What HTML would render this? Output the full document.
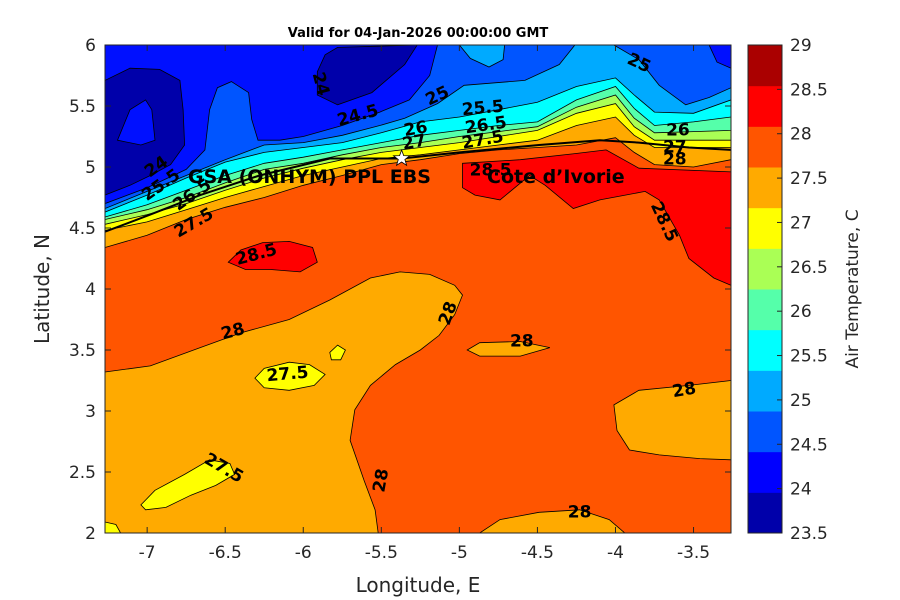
<!DOCTYPE html>
<html><head><meta charset="utf-8"><style>
html,body{margin:0;padding:0;background:#fff;}
svg{display:block;font-family:"DejaVu Sans","Liberation Sans",sans-serif;}
</style></head><body>
<svg id="chart" width="900" height="600" viewBox="0 0 900 600" xmlns="http://www.w3.org/2000/svg">
<defs><clipPath id="plotclip"><rect x="105" y="45" width="626" height="488"/></clipPath></defs>
<rect x="0" y="0" width="900" height="600" fill="#fff"/>
<text x="418" y="37" font-size="13" font-weight="bold" text-anchor="middle" fill="#000">Valid for 04-Jan-2026 00:00:00 GMT</text>
<g id="plot" clip-path="url(#plotclip)"></g>
<g id="overlay"></g>
<rect x="105" y="45" width="626" height="488" fill="none" stroke="#262626" stroke-width="1"/>
<g id="axes"></g>
<g id="cbar"></g>
<text x="418" y="592" font-size="20" text-anchor="middle" fill="#262626">Longitude, E</text>
<text transform="translate(49,289) rotate(-90)" font-size="20" text-anchor="middle" fill="#262626">Latitude, N</text>
<text transform="translate(858,289) rotate(-90)" font-size="17" text-anchor="middle" fill="#262626">Air Temperature, C</text>
</svg>
<script>
// ---- data ----
const xTicks = [-7, -6.5, -6, -5.5, -5, -4.5, -4, -3.5];
const xTickLabels = ["-7", "-6.5", "-6", "-5.5", "-5", "-4.5", "-4", "-3.5"];
const yTicks = [2, 2.5, 3, 3.5, 4, 4.5, 5, 5.5, 6];
const yTickLabels = ["2", "2.5", "3", "3.5", "4", "4.5", "5", "5.5", "6"];
const cbarTicks = [23.5, 24, 24.5, 25, 25.5, 26, 26.5, 27, 27.5, 28, 28.5, 29];
const cbarColors = ["#0000aa","#0000ff","#0055ff","#00aaff","#00ffff","#55ffaa","#aaff55","#ffff00","#ffaa00","#ff5500","#ff0000","#aa0000"];

// northern gradient band: contour latitude at each longitude
const bandLons = [-7.27,-7,-6.75,-6.5,-6.25,-6,-5.75,-5.5,-5.25,-5,-4.75,-4.5,-4.25,-4,-3.88,-3.75,-3.5,-3.26];
const bandLevels = [28, 27.5, 27, 26.5, 26, 25.5];
const lat28   = [4.34,4.44,4.57,4.67,4.75,4.85,4.93,5.02,5.06,5.11,5.14,5.16,5.18,5.24,5.12,5.02,5.00,5.06];
const lat27_5 = [4.48,4.55,4.65,4.75,4.84,4.93,5.00,5.07,5.10,5.14,5.18,5.22,5.34,5.41,5.26,5.16,5.16,5.16];
const lat27   = [4.53,4.61,4.70,4.81,4.91,4.99,5.06,5.12,5.16,5.20,5.25,5.30,5.44,5.52,5.33,5.22,5.22,5.22];
const lat26_5 = [4.57,4.65,4.75,4.87,4.98,5.03,5.10,5.16,5.20,5.25,5.29,5.33,5.49,5.59,5.40,5.28,5.29,5.30];
const lat26   = [4.59,4.69,4.81,4.93,5.03,5.08,5.14,5.20,5.26,5.30,5.34,5.37,5.55,5.66,5.48,5.34,5.37,5.41];
const lat25_5 = [4.63,4.77,4.91,5.04,5.12,5.16,5.20,5.28,5.37,5.41,5.47,5.53,5.66,5.73,5.59,5.45,5.44,5.55];

// 25 contour (two pieces) and patch
const c25aLon = [-7.27,-7,-6.75,-6.5,-6.25,-6,-5.75,-5.51,-5.35,-5.14,-4.97,-4.58,-4.36,-4.26];
const c25aLat = [4.66,4.80,4.93,5.06,5.18,5.20,5.26,5.34,5.40,5.52,5.67,5.71,5.84,6.0];
const c25bLon = [-4.01,-3.85,-3.72,-3.55,-3.40,-3.26];
const c25bLat = [6.0,5.88,5.67,5.51,5.57,5.65];
const p25Lon = [-5,-4.93,-4.81,-4.72,-4.71];
const p25Lat = [6,5.89,5.82,5.88,6];
// 24.5 contour
const c245Lon = [-7.27,-7,-6.75,-6.63,-6.60,-6.55,-6.46,-6.35,-6.33,-6.29,-6.15,-6.00,-5.75,-5.51,-5.32,-5.19,-5.14];
const c245Lat = [4.70,4.83,4.98,5.14,5.47,5.65,5.70,5.61,5.39,5.22,5.22,5.25,5.34,5.45,5.55,5.75,6.0];
const c245bLon = [-3.40,-3.26,-3.26,-3.35];
const c245bLat = [6,6,5.81,5.86];
// 24 patches
const n1Lon = [-7.27,-7.11,-6.92,-6.79,-6.77,-6.76,-6.85,-6.98,-7.11,-7.27];
const n1Lat = [5.71,5.81,5.80,5.71,5.47,5.18,5.02,4.93,4.85,4.77];
const n1hLon = [-7.19,-7.11,-7.01,-6.97,-6.95,-7.04];
const n1hLat = [5.22,5.47,5.55,5.47,5.22,5.18];
const n2Lon = [-5.91,-5.86,-5.78,-5.27,-5.35,-5.56,-5.78,-5.91];
const n2Lat = [5.78,5.92,5.98,6.0,5.84,5.61,5.51,5.59];
// warm region features
const redNELon = [-4.98,-4.61,-4.26,-4.06,-3.85,-3.26,-3.26,-3.37,-3.53,-3.59,-3.72,-3.81,-4.10,-4.27,-4.45,-4.55,-4.74,-4.90,-4.98];
const redNELat = [5.03,5.06,5.11,5.14,4.99,4.96,4.03,4.09,4.25,4.44,4.73,4.80,4.73,4.66,4.85,4.93,4.73,4.77,4.83];
const redWLon = [-6.48,-6.40,-6.26,-6.09,-5.94,-5.91,-6.02,-6.21,-6.37];
const redWLat = [4.22,4.32,4.38,4.39,4.34,4.22,4.14,4.16,4.16];
const orSWLon = [-7.27,-6.98,-6.66,-6.40,-6.09,-5.83,-5.57,-5.38,-5.19,-5.03,-4.98,-5.03,-5.13,-5.25,-5.41,-5.57,-5.67,-5.70,-5.61,-5.54,-5.52,-7.27];
const orSWLat = [3.32,3.37,3.52,3.64,3.75,3.91,4.09,4.14,4.12,4.03,3.95,3.79,3.62,3.50,3.38,3.21,3.01,2.76,2.43,2.19,2.0,2.0];
const orSELon = [-4.87,-4.74,-4.49,-4.23,-4.04,-3.94];
const orSELat = [2,2.11,2.17,2.19,2.11,2.0];
const orELon = [-4.01,-3.85,-3.53,-3.26,-3.26,-3.46,-3.72,-3.91,-3.99];
const orELat = [3.05,3.17,3.21,3.25,2.60,2.61,2.64,2.68,2.84];
const orMLon = [-4.95,-4.87,-4.61,-4.42,-4.61,-4.87];
const orMLat = [3.50,3.56,3.57,3.52,3.45,3.45];
const yAlon = [-6.31,-6.25,-6.09,-5.96,-5.86,-5.93,-6.09,-6.25];
const yAlat = [3.27,3.35,3.40,3.38,3.30,3.21,3.17,3.19];
const yBlon = [-5.83,-5.78,-5.73,-5.76,-5.82];
const yBlat = [3.48,3.54,3.50,3.42,3.42];
const yClon = [-7.04,-6.95,-6.76,-6.60,-6.47,-6.44,-6.56,-6.72,-6.88,-7.01];
const yClat = [2.23,2.35,2.48,2.60,2.57,2.48,2.39,2.31,2.21,2.19];
const yDlon = [-7.27,-7.20,-7.17,-7.27];
const yDlat = [2.09,2.07,2.0,2.0];
// coastline and site
const coastLon = [-7.27,-6.98,-6.66,-6.28,-5.83,-5.37,-5.0,-4.49,-4.10,-3.85,-3.53,-3.26];
const coastLat = [4.47,4.61,4.77,4.93,5.07,5.07,5.12,5.18,5.22,5.20,5.16,5.14];
const siteLon = -5.37, siteLat = 5.07;
// contour labels
const lblText = ["24","24.5","25","25","25.5","26","26.5","27.5","27","26","27","28","24","25.5","26.5","27.5","28.5","28.5","28.5","28","28","27.5","28","28","27.5","28","28"];
const lblLon  = [-5.89,-5.65,-5.14,-3.85,-4.85,-5.28,-4.83,-4.85,-5.29,-3.60,-3.62,-3.62,-6.94,-6.91,-6.71,-6.70,-6.30,-4.80,-3.69,-5.07,-6.45,-6.10,-4.60,-3.56,-6.51,-5.50,-4.23];
const lblLat  = [5.68,5.42,5.58,5.85,5.48,5.31,5.34,5.22,5.20,5.30,5.16,5.06,5.00,4.85,4.77,4.54,4.28,4.97,4.55,3.80,3.65,3.30,3.57,3.17,2.53,2.43,2.17];
const lblRot  = [75,-15,-25,25,-5,-10,-8,-10,-10,0,0,0,-35,-35,-35,-30,-15,0,65,-70,-15,-5,0,-10,30,-80,0];

// ---- axis functions ----
const LON0 = -7.27, LON1 = -3.26, LAT0 = 2, LAT1 = 6;
const PX = 105, PY = 45, PW = 626, PH = 488;
function X(lon){ return PX + (lon - LON0) / (LON1 - LON0) * PW; }
function Y(lat){ return PY + (LAT1 - lat) / (LAT1 - LAT0) * PH; }
const NS = "http://www.w3.org/2000/svg";
const plot = document.getElementById('plot');
const overlay = document.getElementById('overlay');
const axes = document.getElementById('axes');
const cbar = document.getElementById('cbar');
function mk(tag, parent){ const e = document.createElementNS(NS, tag); parent.appendChild(e); return e; }
function pts(lons, lats){ return lons.map((l,i)=>X(l).toFixed(1)+','+Y(lats[i]).toFixed(1)).join(' '); }
function poly(lons, lats, fill, name){
  const p = mk('polygon', plot);
  p.setAttribute('points', pts(lons, lats));
  p.setAttribute('fill', fill);
  p.setAttribute('stroke', '#000');
  p.setAttribute('stroke-width', '0.8');
  
  
  return p;
}

// base
const base = mk('rect', plot);
base.setAttribute('x', PX); base.setAttribute('y', PY); base.setAttribute('width', PW); base.setAttribute('height', PH);
base.setAttribute('fill', '#ff5500');



// warm features first (below band)
poly(orSWLon, orSWLat, '#ffaa00', 'region-27.5-28-southwest');
poly(orSELon, orSELat, '#ffaa00', 'region-27.5-28-south');
poly(orELon, orELat, '#ffaa00', 'region-27.5-28-east');
poly(orMLon, orMLat, '#ffaa00', 'region-27.5-28-middle');
poly(yAlon, yAlat, '#ffff00', 'region-27-27.5-a');
poly(yBlon, yBlat, '#ffff00', 'region-27-27.5-b');
poly(yClon, yClat, '#ffff00', 'region-27-27.5-c');
poly(yDlon, yDlat, '#ffff00', 'region-27-27.5-d');
poly(redNELon, redNELat, '#ff0000', 'region-28.5-northeast');
poly(redWLon, redWLat, '#ff0000', 'region-28.5-west');

// band
const bandLats = [lat28, lat27_5, lat27, lat26_5, lat26, lat25_5];
const bandColors = ['#ffaa00','#ffff00','#aaff55','#55ffaa','#00ffff','#00aaff'];
bandLevels.forEach((lev, k) => {
  const lons = bandLons.concat([LON1, LON0]);
  const lats = bandLats[k].concat([LAT1, LAT1]);
  poly(lons, lats, bandColors[k], 'band-below-' + lev);
});
poly(c25aLon.concat([LON0]), c25aLat.concat([LAT1]), '#0055ff', 'region-24.5-25-west');
poly(c25bLon.concat([LON1]), c25bLat.concat([LAT1]), '#0055ff', 'region-24.5-25-east');
poly(p25Lon, p25Lat, '#00aaff', 'region-25-25.5-top');
poly(c245Lon.concat([LON0]), c245Lat.concat([LAT1]), '#0010ff', 'region-24-24.5');
poly(c245bLon, c245bLat, '#0010ff', 'region-24-24.5-corner');
poly(n1Lon, n1Lat, '#0000aa', 'region-below-24-west');
poly(n1hLon, n1hLat, '#0010ff', 'region-24-24.5-hole');
poly(n2Lon, n2Lat, '#0000aa', 'region-below-24-north');

// coastline
const coast = mk('polyline', plot);
coast.setAttribute('points', pts(coastLon, coastLat));
coast.setAttribute('fill', 'none'); coast.setAttribute('stroke', '#000'); coast.setAttribute('stroke-width', '2');



// contour labels
lblText.forEach((t, i) => {
  const e = mk('text', plot);
  e.setAttribute('transform', 'translate(' + X(lblLon[i]).toFixed(1) + ',' + Y(lblLat[i]).toFixed(1) + ') rotate(' + lblRot[i] + ')');
  e.setAttribute('text-anchor', 'middle');
  e.setAttribute('dominant-baseline', 'central');
  e.setAttribute('font-size', '17');
  e.setAttribute('font-weight', 'bold');
  e.setAttribute('fill', '#000');
  e.textContent = t;
  
  
});

// site star & names
const sx = X(siteLon), sy = Y(siteLat);
const star = mk('polygon', overlay);
let sp = [];
for (let k = 0; k < 10; k++) { const r = k % 2 ? 3.5 : 8.5; const a = -Math.PI/2 + k*Math.PI/5; sp.push((sx + r*Math.cos(a)).toFixed(1) + ',' + (sy + r*Math.sin(a)).toFixed(1)); }
star.setAttribute('points', sp.join(' '));
star.setAttribute('fill', '#fff'); star.setAttribute('stroke', '#000'); star.setAttribute('stroke-width', '0.8');


const t1 = mk('text', overlay);
t1.setAttribute('x', '188'); t1.setAttribute('y', '183'); t1.setAttribute('font-size', '19'); t1.setAttribute('font-weight', 'bold');
t1.textContent = 'GSA (ONHYM) PPL EBS';


const t2 = mk('text', overlay);
t2.setAttribute('x', '487'); t2.setAttribute('y', '183'); t2.setAttribute('font-size', '19'); t2.setAttribute('font-weight', 'bold');
t2.textContent = 'Cote d\u2019Ivorie';



// axes ticks
xTicks.forEach((v, i) => {
  const x = X(v);
  const l1 = mk('line', axes); l1.setAttribute('x1', x); l1.setAttribute('x2', x); l1.setAttribute('y1', PY+PH); l1.setAttribute('y2', PY+PH-6); l1.setAttribute('stroke', '#262626');
   
  const l2 = mk('line', axes); l2.setAttribute('x1', x); l2.setAttribute('x2', x); l2.setAttribute('y1', PY); l2.setAttribute('y2', PY+6); l2.setAttribute('stroke', '#262626');
   
  const t = mk('text', axes); t.setAttribute('x', x); t.setAttribute('y', 558); t.setAttribute('font-size', '17'); t.setAttribute('text-anchor', 'middle'); t.setAttribute('fill', '#262626');
  t.textContent = xTickLabels[i];
   
});
yTicks.forEach((v, i) => {
  const y = Y(v);
  const l1 = mk('line', axes); l1.setAttribute('x1', PX); l1.setAttribute('x2', PX+6); l1.setAttribute('y1', y); l1.setAttribute('y2', y); l1.setAttribute('stroke', '#262626');
   
  const l2 = mk('line', axes); l2.setAttribute('x1', PX+PW); l2.setAttribute('x2', PX+PW-6); l2.setAttribute('y1', y); l2.setAttribute('y2', y); l2.setAttribute('stroke', '#262626');
   
  const t = mk('text', axes); t.setAttribute('x', 96); t.setAttribute('y', y + 6); t.setAttribute('font-size', '17'); t.setAttribute('text-anchor', 'end'); t.setAttribute('fill', '#262626');
  t.textContent = yTickLabels[i];
   
});

// colorbar
const CBX = 748, CBW = 34, CBY = 45, CBH = 488;
const nC = cbarColors.length;
cbarColors.forEach((c, i) => {
  const r = mk('rect', cbar);
  const h = CBH / nC;
  r.setAttribute('x', CBX); r.setAttribute('y', (CBY + CBH - (i+1)*h).toFixed(2)); r.setAttribute('width', CBW); r.setAttribute('height', (h+0.5).toFixed(2));
  r.setAttribute('fill', c);
  
  
});
const cbf = mk('rect', cbar);
cbf.setAttribute('x', CBX); cbf.setAttribute('y', CBY); cbf.setAttribute('width', CBW); cbf.setAttribute('height', CBH);
cbf.setAttribute('fill', 'none'); cbf.setAttribute('stroke', '#262626');


const cmin = cbarTicks[0], cmax = cbarTicks[cbarTicks.length-1];
cbarTicks.forEach(v => {
  const y = CBY + CBH - (v - cmin) / (cmax - cmin) * CBH;
  const l = mk('line', cbar); l.setAttribute('x1', CBX+CBW); l.setAttribute('x2', CBX+CBW-5); l.setAttribute('y1', y); l.setAttribute('y2', y); l.setAttribute('stroke', '#262626');
   
  const t = mk('text', cbar); t.setAttribute('x', 790); t.setAttribute('y', y + 6); t.setAttribute('font-size', '17'); t.setAttribute('fill', '#262626');
  t.textContent = String(v);
   
});
</script>
</body></html>
